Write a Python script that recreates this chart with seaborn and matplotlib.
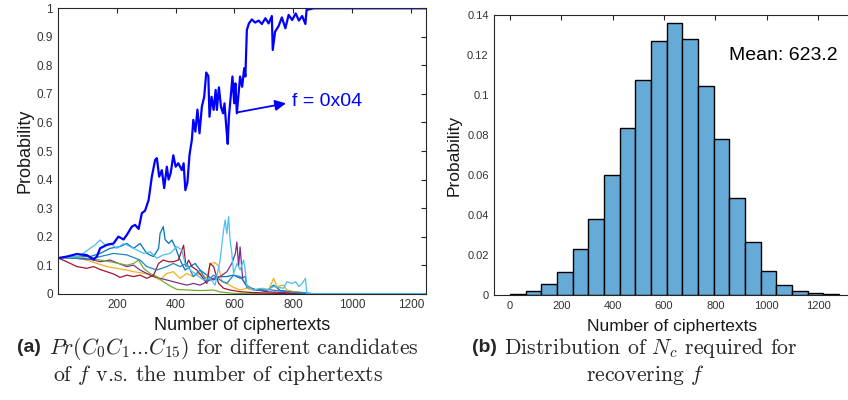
import numpy as np
import pandas as pd
import matplotlib
matplotlib.use("Agg")
import matplotlib.pyplot as plt
import seaborn as sns

# ---- (a) posterior probability of each candidate f vs. number of ciphertexts ----
main_n = [1, 30, 64, 98, 121, 132, 143, 166, 189, 205, 223, 234, 251, 262, 274, 285, 296,
          308, 319, 330, 336, 344, 353, 361, 370, 376, 383, 392, 400, 409, 421, 427, 433,
          440, 447, 455, 460, 467, 474, 481, 489, 497, 504, 511, 515, 522, 529, 536, 540,
          547, 554, 561, 566, 572, 577, 581, 588, 593, 599, 603, 608, 614, 619, 626, 633,
          637, 642, 649, 659, 670, 682, 693, 705, 716, 727, 730, 738, 750, 761, 773, 784,
          796, 808, 819, 830, 841, 845, 869, 1250]
main_p = [0.125, 0.13, 0.139, 0.135, 0.12, 0.13, 0.159, 0.171, 0.176, 0.2, 0.19, 0.206,
          0.235, 0.241, 0.227, 0.282, 0.291, 0.328, 0.41, 0.468, 0.475, 0.41, 0.433, 0.37,
          0.445, 0.40, 0.422, 0.485, 0.445, 0.457, 0.433, 0.457, 0.363, 0.39, 0.486, 0.539,
          0.609, 0.568, 0.645, 0.562, 0.655, 0.69, 0.775, 0.763, 0.62, 0.69, 0.644, 0.714,
          0.644, 0.723, 0.655, 0.632, 0.667, 0.585, 0.525, 0.62, 0.70, 0.761, 0.667, 0.737,
          0.632, 0.702, 0.761, 0.725, 0.79, 0.761, 0.924, 0.947, 0.961, 0.95, 0.957, 0.945,
          0.965, 0.947, 0.973, 0.854, 0.918, 0.938, 0.968, 0.93, 0.977, 0.959, 0.982, 0.957,
          0.973, 0.945, 0.994, 1.0, 1.0]

red_n = [1, 30, 64, 98, 121, 143, 166, 189, 211, 234, 257, 279, 302, 325, 342, 358, 376,
         392, 409, 427, 435, 444, 455, 472, 489, 506, 517, 529, 546, 563, 585, 619, 665,
         720, 800, 1250]
red_p = [0.125, 0.112, 0.095, 0.089, 0.095, 0.085, 0.077, 0.069, 0.057, 0.065, 0.06, 0.065,
         0.054, 0.065, 0.106, 0.118, 0.112, 0.112, 0.118, 0.17, 0.095, 0.118, 0.095, 0.083,
         0.06, 0.036, 0.106, 0.095, 0.036, 0.019, 0.013, 0.007, 0.004, 0.002, 0.0, 0.0]

purple_n = [1, 87, 121, 143, 177, 206, 234, 257, 279, 302, 325, 347, 370, 392, 415, 438,
            460, 483, 506, 529, 551, 574, 591, 603, 608, 614, 619, 628, 642, 676, 710, 767,
            850, 1250]
purple_p = [0.125, 0.124, 0.118, 0.112, 0.118, 0.106, 0.095, 0.1, 0.083, 0.071, 0.06, 0.054,
            0.048, 0.042, 0.036, 0.03, 0.036, 0.03, 0.042, 0.054, 0.06, 0.077, 0.106, 0.141,
            0.181, 0.095, 0.164, 0.048, 0.025, 0.013, 0.007, 0.004, 0.0, 0.0]

yellow_n = [1, 30, 64, 98, 132, 166, 200, 234, 257, 279, 302, 325, 347, 370, 392, 415, 438,
            460, 483, 506, 517, 534, 546, 557, 574, 597, 619, 642, 665, 699, 716, 733, 744,
            767, 778, 801, 850, 1250]
yellow_p = [0.125, 0.124, 0.124, 0.118, 0.106, 0.095, 0.089, 0.083, 0.077, 0.074, 0.069,
            0.06, 0.048, 0.071, 0.077, 0.054, 0.071, 0.06, 0.071, 0.054, 0.106, 0.109, 0.095,
            0.042, 0.036, 0.022, 0.013, 0.019, 0.013, 0.019, 0.013, 0.054, 0.025, 0.03, 0.013,
            0.007, 0.0, 0.0]

green_n = [1, 30, 64, 98, 121, 143, 177, 206, 234, 257, 274, 291, 313, 336, 358, 381, 404,
           438, 483, 529, 551, 597, 700, 1250]
green_p = [0.125, 0.124, 0.127, 0.136, 0.12, 0.118, 0.112, 0.106, 0.1, 0.106, 0.118, 0.089,
           0.071, 0.06, 0.042, 0.027, 0.015, 0.013, 0.011, 0.013, 0.006, 0.001, 0.0, 0.0]

cyan_n = [1, 30, 75, 109, 126, 143, 160, 177, 200, 223, 245, 268, 291, 313, 336, 358, 381,
          404, 421, 432, 449, 472, 495, 517, 534, 551, 563, 568, 574, 580, 585, 591, 597,
          608, 619, 631, 637, 642, 665, 688, 710, 733, 767, 778, 795, 808, 819, 830, 841,
          846, 870, 1250]
cyan_p = [0.125, 0.126, 0.132, 0.159, 0.171, 0.188, 0.171, 0.176, 0.159, 0.176, 0.165,
          0.153, 0.141, 0.147, 0.124, 0.136, 0.141, 0.165, 0.153, 0.106, 0.083, 0.065, 0.048,
          0.054, 0.03, 0.118, 0.223, 0.258, 0.211, 0.27, 0.188, 0.141, 0.071, 0.106, 0.083,
          0.118, 0.077, 0.025, 0.013, 0.019, 0.013, 0.025, 0.019, 0.042, 0.036, 0.042, 0.025,
          0.036, 0.054, 0.001, 0.0, 0.0]

blue_n = [1, 30, 75, 109, 143, 177, 211, 234, 257, 279, 302, 325, 342, 347, 358, 364, 376,
          387, 398, 415, 432, 449, 466, 483, 506, 529, 551, 574, 597, 619, 637, 642, 676,
          710, 733, 756, 801, 835, 870, 1250]
blue_p = [0.125, 0.127, 0.13, 0.13, 0.141, 0.159, 0.165, 0.176, 0.159, 0.176, 0.141, 0.13,
          0.159, 0.211, 0.235, 0.19, 0.176, 0.188, 0.165, 0.118, 0.083, 0.095, 0.106, 0.083,
          0.065, 0.048, 0.06, 0.06, 0.065, 0.054, 0.06, 0.019, 0.013, 0.011, 0.03, 0.011,
          0.007, 0.004, 0.0, 0.0]

steel_n = [1, 30, 98, 143, 189, 234, 279, 302, 336, 370, 392, 415, 438, 460, 483, 506, 529,
           551, 574, 597, 619, 642, 665, 710, 744, 790, 850, 1250]
steel_p = [0.125, 0.127, 0.12, 0.13, 0.141, 0.136, 0.118, 0.095, 0.083, 0.095, 0.106, 0.095,
           0.106, 0.06, 0.083, 0.042, 0.065, 0.048, 0.036, 0.065, 0.06, 0.03, 0.013, 0.015,
           0.011, 0.006, 0.0, 0.0]

others = {
    "0x00": (blue_n, blue_p, "#0072BD"),
    "0x01": (yellow_n, yellow_p, "#EDB120"),
    "0x02": (purple_n, purple_p, "#7E2F8E"),
    "0x03": (green_n, green_p, "#77AC30"),
    "0x05": (red_n, red_p, "#A2142F"),
    "0x06": (steel_n, steel_p, "#1F84C6"),
    "0x07": (cyan_n, cyan_p, "#4DBEEE"),
}

# ---- (b) distribution of N_c ----
bin_edges = [61 * k for k in range(22)]
bin_prob = [0.0008, 0.0022, 0.0055, 0.0115, 0.0229, 0.0381, 0.0599, 0.0834, 0.1074, 0.1268,
            0.1358, 0.1278, 0.1045, 0.0782, 0.0484, 0.0267, 0.012, 0.0051, 0.002, 0.001, 0.0005]
mean_nc = 623.2

sns.set_style("white")
plt.rcParams["font.family"] = ["Liberation Sans", "DejaVu Sans"]
plt.rcParams["mathtext.fontset"] = "cm"

W, H = 848, 400
fig = plt.figure(figsize=(W / 100, H / 100), dpi=100)
ax1 = fig.add_axes([58.3 / W, 1 - 293.7 / H, 367.4 / W, 285.4 / H])
ax2 = fig.add_axes([494.3 / W, 1 - 295.3 / H, (852 - 494.3) / W, 280.3 / H])

axis_col = "#262626"
tick_col = "#333333"

# left panel
rows = []
for name, (n, p, _) in others.items():
    rows += [(name, a, b) for a, b in zip(n, p)]
df_other = pd.DataFrame(rows, columns=["cand", "n", "p"])
df_main = pd.DataFrame({"cand": "0x04", "n": main_n, "p": main_p})

sns.lineplot(data=df_other, x="n", y="p", hue="cand", hue_order=list(others.keys()),
             palette={k: v[2] for k, v in others.items()}, estimator=None, sort=False,
             legend=False, linewidth=0.9, ax=ax1)
sns.lineplot(data=df_main, x="n", y="p", color="#0000FF", estimator=None, sort=False,
             legend=False, linewidth=1.6, ax=ax1)

ax1.set_xlim(1, 1250)
ax1.set_ylim(0, 1)
ax1.set_xticks([200, 400, 600, 800, 1000, 1200])
yt = [round(0.1 * i, 1) for i in range(11)]
ax1.set_yticks(yt)
ax1.set_yticklabels([f"{v:g}" for v in yt])
ax1.tick_params(direction="in", length=3.5, width=0.8, colors=axis_col, labelcolor=tick_col,
                labelsize=8.5, top=True, right=True, pad=4)
for s in ax1.spines.values():
    s.set_color(axis_col)
    s.set_linewidth(0.8)
ax1.set_xlabel("Number of ciphertexts", fontsize=13, color="#1a1a1a")
ax1.set_ylabel("Probability", fontsize=13, color="#1a1a1a")
ax1.xaxis.set_label_coords(0.5, -0.11)
ax1.xaxis.label.set_va("center")
ax1.yaxis.set_label_coords(-0.091, 0.5)
ax1.yaxis.label.set_va("center")

ax1.annotate("", xy=(775, 0.667), xytext=(608, 0.635),
             arrowprops=dict(arrowstyle="-|>", color="#0000FF", lw=1.3,
                             mutation_scale=16, shrinkA=0, shrinkB=0))
ax1.text(795, 0.673, "f = 0x04", color="#0000FF", fontsize=14, va="center", ha="left")

# right panel
centers = [(bin_edges[i] + bin_edges[i + 1]) / 2 for i in range(len(bin_prob))]
sns.histplot(x=centers, weights=bin_prob, bins=bin_edges, stat="count",
             color="#66AAD7", alpha=1.0, edgecolor="black", linewidth=1.0, ax=ax2)
ax2.set_xlim(-61, 1332)
ax2.set_ylim(0, 0.14)
ax2.set_xticks([0, 200, 400, 600, 800, 1000, 1200])
y2 = [round(0.02 * i, 2) for i in range(8)]
ax2.set_yticks(y2)
ax2.set_yticklabels([f"{v:g}" for v in y2])
ax2.tick_params(direction="in", length=3.5, width=0.8, colors=axis_col, labelcolor=tick_col,
                labelsize=8, top=True, right=False, pad=4)
for s in ax2.spines.values():
    s.set_color(axis_col)
    s.set_linewidth(0.8)
ax2.set_xlabel("Number of ciphertexts", fontsize=12.5, color="#1a1a1a")
ax2.set_ylabel("Probability", fontsize=12.5, color="#1a1a1a")
ax2.xaxis.set_label_coords((672 - 494.3) / (852 - 494.3), -0.11)
ax2.xaxis.label.set_va("center")
ax2.yaxis.set_label_coords(-0.113, 0.5)
ax2.yaxis.label.set_va("center")
ax2.text(853, 0.1197, f"Mean: {mean_nc}", fontsize=14, color="black", va="center", ha="left")

# captions
cap = dict(fontsize=15.7, family="cmr10", va="center")
lab = dict(fontsize=14, family=["Liberation Sans", "DejaVu Sans"], weight="bold", va="center")
fig.text(17 / W, 1 - 348 / H, "(a)", ha="left", **lab)
fig.text(49 / W, 1 - 348 / H, r"$Pr(C_0C_1$...$C_{15})$ for different candidates", ha="left", **cap)
fig.text(218 / W, 1 - 375 / H, r"of $f$ v.s. the number of ciphertexts", ha="center", **cap)
fig.text(472 / W, 1 - 348 / H, "(b)", ha="left", **lab)
fig.text(504 / W, 1 - 348 / H, r"Distribution of $N_c$ required for", ha="left", **cap)
fig.text(645 / W, 1 - 375 / H, r"recovering $f$", ha="center", **cap)

fig.savefig("out.png", dpi=100)
